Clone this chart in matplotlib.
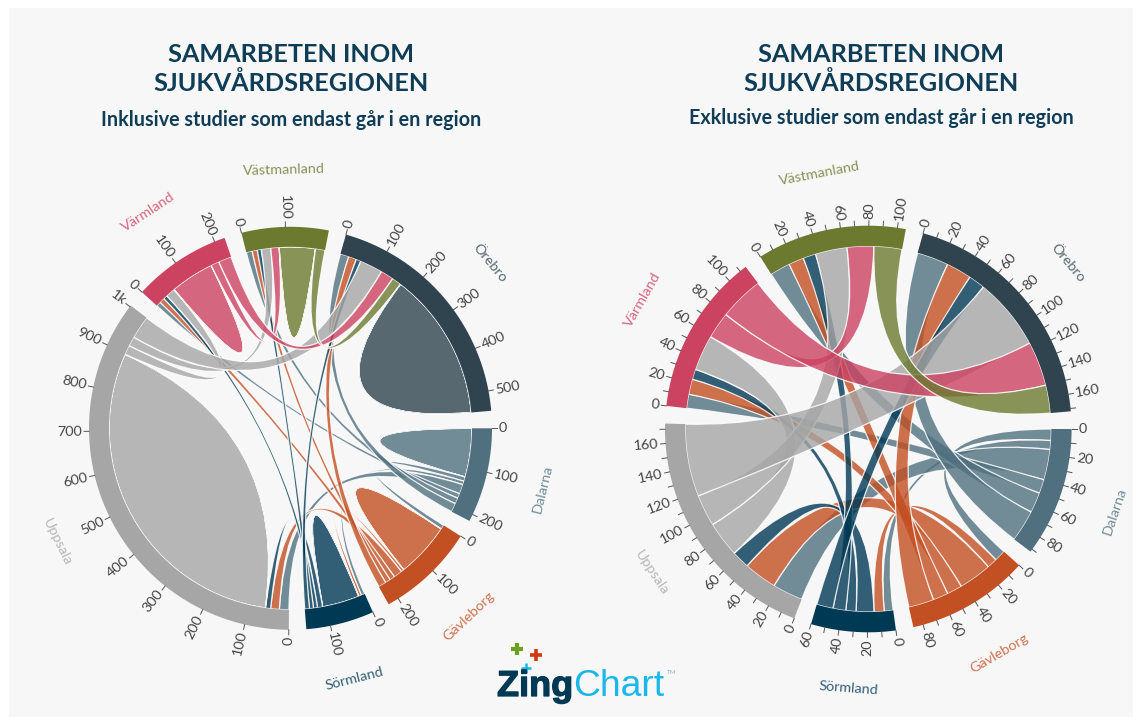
import numpy as np
import matplotlib
matplotlib.use("Agg")
import matplotlib.pyplot as plt
from matplotlib.path import Path
from matplotlib.patches import PathPatch, Rectangle
import matplotlib.patheffects as pe

regions = ["Dalarna", "Gävleborg", "Sörmland", "Uppsala", "Värmland", "Västmanland", "Örebro"]
ring_colors = ["#50707F", "#C35023", "#003954", "#A6A6A6", "#CC4261", "#6C7A2F", "#2F444F"]

title_lines = "SAMARBETEN INOM\nSJUKVÅRDSREGIONEN"
subtitle_left = "Inklusive studier som endast går i en region"
subtitle_right = "Exklusive studier som endast går i en region"

# matrices: rows/cols in region order, symmetric
inclusive = [
    [123, 11, 9, 24, 12, 15, 22],
    [11, 139, 7, 22, 13, 13, 20],
    [9, 7, 94, 13, 10, 10, 12],
    [24, 22, 13, 838, 24, 24, 58],
    [12, 13, 10, 24, 111, 21, 33],
    [15, 13, 10, 24, 21, 91, 24],
    [22, 20, 12, 58, 33, 24, 376],
]
exclusive = [
    [0, 9, 7, 24, 11, 16, 25],
    [9, 0, 8, 26, 12, 12, 20],
    [7, 8, 0, 14, 8, 10, 13],
    [24, 26, 14, 0, 28, 25, 57],
    [11, 12, 8, 28, 0, 21, 35],
    [16, 12, 10, 25, 21, 0, 22],
    [25, 20, 13, 57, 35, 22, 0],
]

W, H = 1141, 719
plt.rcParams["font.family"] = ["Lato", "DejaVu Sans"]
fig = plt.figure(figsize=(W / 100, H / 100), dpi=100, facecolor="white")
ax = fig.add_axes([0, 0, 1, 1])
ax.set_xlim(0, W)
ax.set_ylim(H, 0)
ax.axis("off")
ax.add_patch(Rectangle((9, 8), 1124, 709, fc="#F7F7F7", ec="none", zorder=0))


def pt(cx, cy, r, a):
    return cx + r * np.cos(a), cy + r * np.sin(a)


def arc_pts(cx, cy, r, a0, a1, n=40):
    t = np.linspace(a0, a1, n)
    return np.column_stack([cx + r * np.cos(t), cy + r * np.sin(t)])


def ribbon(cx, cy, r, a0, a1, b0, b1, color):
    verts, codes = [], []
    pa = arc_pts(cx, cy, r, a0, a1)
    verts += [tuple(p) for p in pa]
    codes += [Path.MOVETO] + [Path.LINETO] * (len(pa) - 1)
    verts += [(cx, cy), pt(cx, cy, r, b0)]
    codes += [Path.CURVE3, Path.CURVE3]
    pb = arc_pts(cx, cy, r, b0, b1)
    verts += [tuple(p) for p in pb[1:]]
    codes += [Path.LINETO] * (len(pb) - 1)
    verts += [(cx, cy), pt(cx, cy, r, a0)]
    codes += [Path.CURVE3, Path.CURVE3]
    ax.add_patch(PathPatch(Path(verts, codes), fc=color, ec="none", alpha=0.8, zorder=2))
    ax.add_patch(PathPatch(Path(verts, codes), fc="none", ec="white", lw=0.9, alpha=0.85, zorder=2))


def chord(matrix, cx, cy, r_in, r_out, label_r, major, minor):
    m = np.array(matrix, dtype=float)
    n = len(m)
    gap = np.deg2rad(5)
    totals = m.sum(axis=1)
    k = (2 * np.pi - n * gap) / totals.sum()
    a = 0.0
    sub = {}
    for i in range(n):
        start = a
        for j in range(n):
            sub[(i, j)] = (a, a + m[i, j] * k)
            a += m[i, j] * k
        end = a
        a += gap
        # ring
        outer = arc_pts(cx, cy, r_out, start, end, 60)
        inner = arc_pts(cx, cy, r_in, end, start, 60)
        poly = np.vstack([outer, inner])
        ax.fill(poly[:, 0], poly[:, 1], color=ring_colors[i], lw=0, zorder=3)
        # ticks
        v = 0
        while v <= totals[i] + 1e-6:
            ang = start + v * k
            is_major = v % major == 0
            x0, y0 = pt(cx, cy, r_out, ang)
            x1, y1 = pt(cx, cy, r_out + 5, ang)
            ax.plot([x0, x1], [y0, y1], color="#555555", lw=0.7, zorder=3)
            if is_major:
                deg = np.rad2deg(ang) % 360
                flip = 90 < deg < 270
                rot = -deg + 180 if flip else -deg
                lab = "1k" if v == 1000 else str(v)
                x2, y2 = pt(cx, cy, r_out + 7, ang)
                ax.text(x2, y2, lab, rotation=rot, rotation_mode="anchor",
                        ha="right" if flip else "left", va="center",
                        fontsize=10.4, color="#444444", zorder=4)
            v += minor
        # group label
        mid = (start + end) / 2
        deg = np.rad2deg(mid) % 360
        rot = (90 - deg + 90) % 180 - 90
        x3, y3 = pt(cx, cy, label_r, mid)
        ax.text(x3, y3, regions[i], rotation=rot, rotation_mode="anchor", ha="center", va="center",
                fontsize=10.4, color=ring_colors[i], alpha=0.8, zorder=4)
    for i in range(n):
        for j in range(i, n):
            if m[i, j] > 0:
                ribbon(cx, cy, r_in, *sub[(i, j)], *sub[(j, i)], ring_colors[i])


chord(inclusive, 290.5, 428.3, 181.5, 201.5, 259, 100, 100)
chord(exclusive, 868.3, 429, 183, 203.3, 260, 20, 10)

title_color = "#0F3D57"
for x, y_sub, sub_text in [(291.5, 120, subtitle_left), (881, 118, subtitle_right)]:
    ax.text(x, 69, title_lines, ha="center", va="center", fontsize=18.2, fontweight="bold",
            color=title_color, linespacing=1.29)
    ax.text(x, y_sub, sub_text, ha="center", va="center", fontsize=14.2, fontweight="bold", color=title_color)

# logo
ax.text(497, 696, "Zing", ha="left", va="baseline", fontsize=26, fontweight="bold",
        family=["Liberation Sans", "DejaVu Sans"], color="#003954",
        path_effects=[pe.withStroke(linewidth=0.9, foreground="#003954")])
ax.text(573, 696, "Chart", ha="left", va="baseline", fontsize=26.8,
        family=["Liberation Sans", "DejaVu Sans"], color="#1AB7EA")
ax.text(667, 673, "TM", ha="left", va="center", fontsize=4.5, color="#7FB8CC")
ax.plot([516.7], [649], marker="+", ms=9, mew=3, color="#6EA020")
ax.plot([535.7], [654.7], marker="+", ms=8, mew=2.6, color="#D03A10")
ax.plot([525.7], [668], marker="+", ms=7, mew=1.8, color="#1AB7EA")

fig.savefig("out.png", dpi=100, facecolor="white")
